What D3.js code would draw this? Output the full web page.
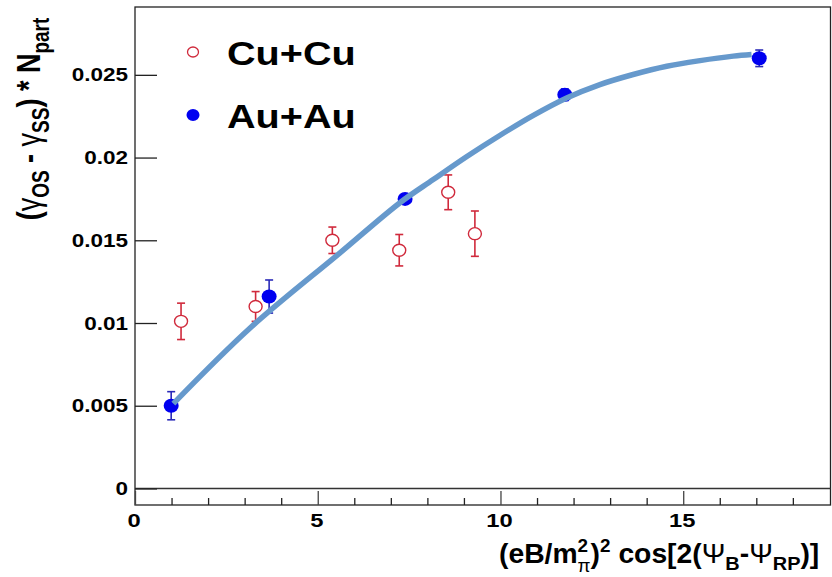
<!DOCTYPE html>
<html>
<head>
<meta charset="utf-8">
<script src="https://cdn.jsdelivr.net/npm/d3@7"></script>
<style>
  body { margin: 0; background: #fff; }
  svg { display: block; }
  text { font-family: "Liberation Sans", Arial, Helvetica, sans-serif; font-weight: bold; fill: #000; }
</style>
</head>
<body>
<svg id="chart" width="832" height="577"></svg>
<script>
// Cu+Cu measurements (open red circles)
const cuX   = [1.26, 3.30, 5.40, 7.23, 8.57, 9.30];
const cuY   = [0.0101, 0.0110, 0.0150, 0.0144, 0.0179, 0.0154];
const cuErr = [0.0011, 0.0009, 0.0008, 0.00095, 0.00105, 0.00137];

// Au+Au measurements (filled blue circles)
const auX   = [0.99, 3.67, 7.39, 11.76, 17.08];
const auY   = [0.0050, 0.0116, 0.0175, 0.0238, 0.0260];
const auErr = [0.00085, 0.0010, 0.0002, 0.00035, 0.0005];

// Smooth trend curve through the Au+Au points
const fitX = [1.05, 3.15, 5.61, 7.25, 8.16, 9.07, 9.99, 10.9, 11.81, 12.72, 13.63, 14.55, 15.46, 16.37, 16.87];
const fitY = [0.00513, 0.0097, 0.01424, 0.01727, 0.01867, 0.02005, 0.02135, 0.02255, 0.02360, 0.02441, 0.02502, 0.02552, 0.02586, 0.02613, 0.02623];

// Axis ticks
const xMajorTicks = [0, 5, 10, 15];
const xTickLabels = ["0", "5", "10", "15"];
const xMinorTicks = [1, 2, 3, 4, 6, 7, 8, 9, 11, 12, 13, 14, 16, 17, 18];
const yTicks = [0, 0.005, 0.01, 0.015, 0.02, 0.025];
const yTickLabels = ["0", "0.005", "0.01", "0.015", "0.02", "0.025"];

const legendNames = ["Cu+Cu", "Au+Au"];

const frame = { left: 135, top: 7, right: 830.5, bottom: 505 };
const svg = d3.select("#chart");

const x = d3.scaleLinear().domain([0, 19.03]).range([frame.left, frame.right]);
const y = d3.scaleLinear().domain([-0.001, 0.0291]).range([frame.bottom, frame.top]);

const RED = "#d02a3c", BLUE = "#0000f0", BLUE_ERR = "#2a2ab8", FIT = "#6699cc";

// plot frame
svg.append("rect")
  .attr("x", frame.left).attr("y", frame.top)
  .attr("width", frame.right - frame.left).attr("height", frame.bottom - frame.top)
  .attr("fill", "none").attr("stroke", "#222").attr("stroke-width", 1.3);

// zero line
svg.append("line")
  .attr("x1", frame.left).attr("x2", frame.right)
  .attr("y1", y(0)).attr("y2", y(0))
  .attr("stroke", "#333").attr("stroke-width", 1.5);

// y axis: ticks pointing into the plot
const yAxis = d3.axisRight(y).tickValues(yTicks).tickSize(22).tickFormat("");
const gy = svg.append("g").attr("transform", `translate(${frame.left},0)`).call(yAxis);
gy.select(".domain").remove();
gy.selectAll(".tick line").attr("stroke", "#222").attr("stroke-width", 1.3);

yTicks.forEach((v, i) => {
  svg.append("g")
    .attr("transform", `translate(128,${y(v) + 6.5}) scale(1.25,1)`)
    .append("text")
    .attr("text-anchor", "end")
    .attr("font-size", 18)
    .text(yTickLabels[i]);
});

// x axis: ticks on the bottom edge pointing up
const xMajor = d3.axisTop(x).tickValues(xMajorTicks).tickSize(14).tickFormat("");
const gxM = svg.append("g").attr("transform", `translate(0,${frame.bottom})`).call(xMajor);
gxM.select(".domain").remove();
gxM.selectAll(".tick line").attr("stroke", "#444").attr("stroke-width", 1.3);

const xMinor = d3.axisTop(x).tickValues(xMinorTicks).tickSize(7).tickFormat("");
const gxm = svg.append("g").attr("transform", `translate(0,${frame.bottom})`).call(xMinor);
gxm.select(".domain").remove();
gxm.selectAll(".tick line").attr("stroke", "#222").attr("stroke-width", 1.3);

xMajorTicks.forEach((v, i) => {
  svg.append("g")
    .attr("transform", `translate(${x(v) - 1},527) scale(1.25,1)`)
    .append("text")
    .attr("text-anchor", "middle")
    .attr("font-size", 19)
    .text(xTickLabels[i]);
});

// error bars with caps
function errorBars(xs, ys, es, color) {
  const g = svg.append("g").attr("stroke", color).attr("stroke-width", 1.6);
  xs.forEach((xv, i) => {
    const cx = x(xv), top = y(ys[i] + es[i]), bot = y(ys[i] - es[i]);
    g.append("line").attr("x1", cx).attr("x2", cx).attr("y1", top).attr("y2", bot);
    g.append("line").attr("x1", cx - 4).attr("x2", cx + 4).attr("y1", top).attr("y2", top);
    g.append("line").attr("x1", cx - 4).attr("x2", cx + 4).attr("y1", bot).attr("y2", bot);
  });
}

errorBars(cuX, cuY, cuErr, RED);
errorBars(auX, auY, auErr, BLUE_ERR);

// Cu+Cu markers
svg.append("g").selectAll("ellipse").data(cuX).join("ellipse")
  .attr("cx", d => x(d)).attr("cy", (d, i) => y(cuY[i]))
  .attr("rx", 6.5).attr("ry", 6)
  .attr("fill", "#fff").attr("stroke", RED).attr("stroke-width", 1.4);

// Au+Au markers
svg.append("g").selectAll("ellipse").data(auX).join("ellipse")
  .attr("cx", d => x(d)).attr("cy", (d, i) => y(auY[i]))
  .attr("rx", 7.5).attr("ry", 7)
  .attr("fill", BLUE);

// trend curve
const line = d3.line().x(d => x(d[0])).y(d => y(d[1])).curve(d3.curveCatmullRom.alpha(0.5));
svg.append("path")
  .datum(fitX.map((v, i) => [v, fitY[i]]))
  .attr("d", line)
  .attr("fill", "none").attr("stroke", FIT).attr("stroke-width", 5.5)
  .attr("stroke-linecap", "butt");

// legend
const legendY = [52, 115];
svg.append("ellipse").attr("cx", 193).attr("cy", legendY[0]).attr("rx", 5.5).attr("ry", 5)
  .attr("fill", "#fff").attr("stroke", RED).attr("stroke-width", 1.3);
svg.append("ellipse").attr("cx", 193).attr("cy", legendY[1]).attr("rx", 6.5).attr("ry", 6)
  .attr("fill", BLUE);
legendNames.forEach((name, i) => {
  svg.append("g")
    .attr("transform", `translate(227,${legendY[i] + 13}) scale(1.2,1)`)
    .append("text")
    .attr("font-size", 33)
    .text(name);
});

// y axis title
const yt = svg.append("g").attr("transform", "translate(40,119) scale(1.25,1) rotate(-90)")
  .append("text").attr("text-anchor", "middle").attr("font-size", 27);
yt.append("tspan").text("(");
yt.append("tspan").attr("font-weight", "normal").text("γ");
yt.append("tspan").attr("font-size", 19).attr("dy", 7).text("OS");
yt.append("tspan").attr("dy", -7).text(" - ");
yt.append("tspan").attr("font-weight", "normal").text("γ");
yt.append("tspan").attr("font-size", 19).attr("dy", 7).text("SS");
yt.append("tspan").attr("dy", -7).text(") ");
yt.append("tspan").text("* N");
yt.append("tspan").attr("font-size", 19).attr("dy", 7).text("part");

// x axis title
const xtG = svg.append("g");
const xt = xtG.append("text").attr("font-size", 27);
xt.append("tspan").text("(eB/m");
xt.append("tspan").attr("font-size", 18).attr("dy", -11).text("2");
xt.append("tspan").attr("font-size", 18).attr("font-weight", "normal").attr("dx", -10).attr("dy", 20).text("π");
xt.append("tspan").attr("dy", -9).text(")");
xt.append("tspan").attr("font-size", 18).attr("dy", -11).text("2");
xt.append("tspan").attr("dy", 11).text(" cos[2(");
xt.append("tspan").attr("font-weight", "normal").text("Ψ");
xt.append("tspan").attr("font-size", 19).attr("dy", 7).text("B");
xt.append("tspan").attr("dy", -7).text("-");
xt.append("tspan").attr("font-weight", "normal").text("Ψ");
xt.append("tspan").attr("font-size", 19).attr("dy", 7).text("RP");
xt.append("tspan").attr("dy", -7).text(")]");
const w = xt.node().getComputedTextLength();
const sx = 331 / w;
xtG.attr("transform", `translate(${830 - 331},563) scale(${sx},1)`);
</script>
</body>
</html>
